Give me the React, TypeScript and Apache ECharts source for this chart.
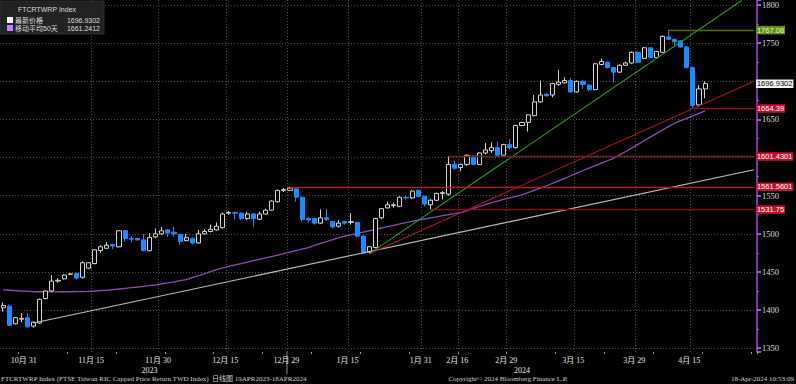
import React, { useEffect, useRef } from "react";
import * as echarts from "echarts";

const tradeDates = [
  "2023-10-26", "2023-10-27", "2023-10-30", "2023-10-31",
  "2023-11-01", "2023-11-02", "2023-11-03", "2023-11-06", "2023-11-07", "2023-11-08", "2023-11-09", "2023-11-10",
  "2023-11-13", "2023-11-14", "2023-11-15", "2023-11-16", "2023-11-17", "2023-11-20", "2023-11-21", "2023-11-22",
  "2023-11-23", "2023-11-24", "2023-11-27", "2023-11-28", "2023-11-29", "2023-11-30",
  "2023-12-01", "2023-12-04", "2023-12-05", "2023-12-06", "2023-12-07", "2023-12-08", "2023-12-11", "2023-12-12",
  "2023-12-13", "2023-12-14", "2023-12-15", "2023-12-18", "2023-12-19", "2023-12-20", "2023-12-21", "2023-12-22",
  "2023-12-25", "2023-12-26", "2023-12-27", "2023-12-28", "2023-12-29",
  "2024-01-02", "2024-01-03", "2024-01-04", "2024-01-05", "2024-01-08", "2024-01-09", "2024-01-10", "2024-01-11",
  "2024-01-12", "2024-01-15", "2024-01-16", "2024-01-17", "2024-01-18", "2024-01-19", "2024-01-22", "2024-01-23",
  "2024-01-24", "2024-01-25", "2024-01-26", "2024-01-29", "2024-01-30", "2024-01-31",
  "2024-02-01", "2024-02-02", "2024-02-05", "2024-02-06", "2024-02-15", "2024-02-16", "2024-02-19", "2024-02-20",
  "2024-02-21", "2024-02-22", "2024-02-23", "2024-02-26", "2024-02-27", "2024-02-29",
  "2024-03-01", "2024-03-04", "2024-03-05", "2024-03-06", "2024-03-07", "2024-03-08", "2024-03-11", "2024-03-12",
  "2024-03-13", "2024-03-14", "2024-03-15", "2024-03-18", "2024-03-19", "2024-03-20", "2024-03-21", "2024-03-22",
  "2024-03-25", "2024-03-26", "2024-03-27", "2024-03-28", "2024-03-29",
  "2024-04-01", "2024-04-02", "2024-04-03", "2024-04-08", "2024-04-09", "2024-04-10", "2024-04-11", "2024-04-12",
  "2024-04-15", "2024-04-16", "2024-04-17", "2024-04-18",
];
const futureDates = ["2024-04-19", "2024-04-22", "2024-04-23", "2024-04-24", "2024-04-25", "2024-04-26", "2024-04-29", "2024-04-30"];

const opens = [
  1403, 1405, 1382, 1388, 1390, 1379, 1383, 1415, 1425, 1438,
  1441, 1447, 1448, 1443, 1455, 1461, 1478, 1481, 1486, 1483,
  1504, 1494, 1494, 1492, 1478, 1496, 1500, 1505, 1502, 1499,
  1491, 1494, 1488, 1500, 1503, 1505, 1508, 1527, 1528, 1527,
  1520, 1526, 1519, 1526, 1531, 1542, 1557, 1557, 1559, 1548,
  1520, 1520, 1514, 1521, 1516, 1510, 1516, 1515, 1515, 1497,
  1476, 1482, 1521, 1534, 1537, 1536, 1548, 1547, 1557, 1549,
  1538, 1544, 1553, 1552, 1591, 1587, 1591, 1602, 1591, 1606,
  1609, 1613, 1603, 1617, 1613, 1642, 1646, 1655, 1673, 1683,
  1682, 1696, 1698, 1701, 1686, 1700, 1695, 1689, 1722, 1725,
  1718, 1712, 1721, 1724, 1738, 1730, 1744, 1731, 1738, 1758,
  1755, 1753, 1745, 1718, 1669, 1690,
];
const closes = [
  1406, 1380, 1390, 1389, 1378, 1384, 1414, 1425, 1438, 1439,
  1446, 1447.5, 1442, 1462, 1462, 1479, 1483, 1485, 1484, 1504,
  1494, 1493, 1492, 1478, 1495, 1500, 1504, 1501, 1500, 1490,
  1495, 1488, 1500, 1503, 1506, 1510, 1526, 1528, 1527, 1520,
  1526, 1520, 1526, 1531, 1543, 1557, 1558, 1560, 1548, 1519,
  1518, 1514, 1521, 1519, 1509, 1514, 1514, 1516, 1497, 1475,
  1483, 1520, 1533, 1538, 1538, 1548, 1547, 1556, 1549, 1539,
  1544, 1553, 1554, 1591, 1586, 1591, 1603, 1591, 1606, 1610,
  1613, 1603, 1617, 1613, 1642, 1646, 1656, 1673, 1682, 1681,
  1697, 1699, 1701, 1686, 1700, 1696, 1689, 1723, 1726, 1718,
  1712, 1721, 1724, 1738, 1725, 1744, 1731, 1739, 1759, 1755,
  1752, 1745, 1718, 1668, 1690, 1696.9302,
];
const lows = [
  1398, 1379, 1381, 1384, 1377, 1377, 1382, 1414, 1424, 1436,
  1440, 1446, 1440, 1441, 1454, 1460, 1475, 1480, 1480, 1482,
  1490, 1489, 1491, 1477, 1477, 1494, 1499, 1496, 1496, 1485,
  1490, 1486, 1487, 1499, 1502, 1504, 1507, 1525, 1519, 1518,
  1518, 1509, 1518, 1525, 1530, 1541, 1555, 1556, 1542, 1516,
  1515, 1512, 1513, 1517, 1507, 1508, 1512, 1512, 1495, 1473,
  1474, 1481, 1519, 1533, 1534, 1535, 1545, 1546, 1548, 1536,
  1531.75, 1543, 1545, 1550, 1584, 1582, 1589, 1590, 1590, 1604,
  1606, 1602, 1602, 1611, 1612, 1641, 1634, 1654, 1672, 1680,
  1679, 1694, 1697, 1685, 1685, 1690, 1687, 1688, 1721, 1717,
  1699, 1711, 1720, 1723, 1724, 1729, 1730, 1730, 1737, 1754,
  1745, 1744, 1717, 1664.39, 1667, 1678,
];
const highs = [
  1410, 1407, 1391, 1396, 1396, 1385, 1415, 1426, 1446, 1442,
  1447, 1448, 1449, 1464, 1463, 1480, 1485, 1489, 1487, 1505,
  1505, 1497, 1494.5, 1500, 1501, 1507, 1509, 1506, 1509, 1500,
  1500, 1495, 1505, 1506, 1512, 1515, 1528, 1530, 1529, 1528,
  1529, 1527, 1529, 1533, 1544, 1558, 1560, 1561.5601, 1560, 1549,
  1522, 1521, 1532, 1532, 1517, 1518, 1517, 1527, 1516, 1498,
  1484, 1521, 1534, 1542, 1541, 1549, 1550, 1557, 1558, 1550,
  1546, 1554, 1556, 1601.4301, 1596, 1592, 1604, 1603, 1607, 1619,
  1620, 1621, 1618, 1624, 1643, 1647, 1657, 1682, 1701, 1684,
  1698, 1715, 1705, 1705, 1701, 1702, 1696, 1724, 1730, 1726,
  1719, 1722, 1726, 1739, 1739, 1745, 1745, 1740, 1760, 1767.08,
  1756, 1754, 1746, 1719, 1695, 1700,
];
const ma50 = [
  1426.5, 1426, 1425.5, 1425, 1424.6, 1424.2, 1424, 1423.8, 1423.8, 1423.9,
  1424, 1424, 1424.1, 1424.3, 1424.6, 1425, 1425.5, 1426, 1426.8, 1427.6,
  1428.5, 1429.3, 1430.2, 1431.1, 1432, 1433, 1434.3, 1435.6, 1437, 1438.5,
  1440, 1442.5, 1445, 1447.6, 1450.3, 1453, 1455.2, 1457.2, 1459.1, 1461,
  1463, 1464.8, 1466.6, 1468.4, 1470.2, 1472, 1474, 1476, 1478, 1480,
  1482, 1484.7, 1487.3, 1489.9, 1492.5, 1495, 1496.9, 1498.7, 1500.5, 1502.3,
  1504, 1505.8, 1507.6, 1509.4, 1511.2, 1513, 1514.6, 1516.2, 1517.8, 1519.4,
  1521, 1522.3, 1523.7, 1525.1, 1526.5, 1528, 1530.5, 1533.1, 1535.8, 1538.4,
  1541, 1543, 1545, 1547, 1549, 1551, 1554, 1557, 1560, 1563,
  1566, 1569.3, 1572.7, 1576.1, 1579.5, 1583, 1586.2, 1589.4, 1592.6, 1595.8,
  1599, 1603.5, 1608, 1612.6, 1617.2, 1622, 1626.7, 1631.3, 1636, 1640.5,
  1645, 1648.3, 1651.5, 1654.7, 1658, 1661.2412,
];

const xLabelDates = ["2023-10-31", "2023-11-15", "2023-11-30", "2023-12-15", "2023-12-29", "2024-01-15",
  "2024-01-31", "2024-02-16", "2024-02-29", "2024-03-15", "2024-03-29", "2024-04-15"];
const yearLabelDates = ["2023-11-29", "2024-03-05"];
const yearLabelTexts = ["2023", "2024"];
const yearBreakDate = "2024-01-02";
const hiddenYLabels = [1600, 1700];

const levelValues = [1767.08, 1664.39, 1601.4301, 1561.5601, 1531.75];
const levelStartDates = ["2024-04-10", "2024-04-16", "2024-02-15", "2024-01-02", "2024-02-02"];
const levelLineColors = ["#56680a", "#8e1022", "#7c1a1e", "#b8141c", "#761619"];
const levelTagColors = ["#5c9412", "#c4102e", "#c4102e", "#c4102e", "#c4102e"];

const trendStartDates = ["2023-11-02", "2024-01-19", "2024-01-19"];
const trendStartValues = [1383, 1474, 1474];
const trendEndDates = ["2024-04-30", "2024-04-30", "2024-04-26"];
const trendEndValues = [1584, 1700, 1806];
const trendColors = ["#bdbdbd", "#b3141c", "#1f9a1f"];

const legendTitle = "FTCRTWRP Index";
const legendNames = ["最新价格", "移动平均50天"];
const footerLeft = "FTCRTWRP Index (FTSE Taiwan RIC Capped Price Return TWD Index)  日线图 19APR2023-18APR2024";
const footerMid = "Copyright© 2024 Bloomberg Finance L.P.";
const footerRight = "18-Apr-2024 10:53:09";

const SANS = '"Liberation Sans","Noto Sans CJK SC",sans-serif';
const SERIF = '"Liberation Serif","Noto Sans CJK SC",serif';
const PURPLE = "#a24de0";

export default function App() {
  const ref = useRef<HTMLDivElement>(null);
  useEffect(() => {
    document.body.style.margin = "0";
    document.body.style.background = "#000";
    const el = ref.current!;
    const chart = echarts.init(el, null, { renderer: "svg" });
    const categories = tradeDates.concat(futureDates);
    const lastCat = categories[categories.length - 1];
    const candleData = tradeDates.map((_, i) => [opens[i], closes[i], lows[i], highs[i]]);
    const labelIdx = new Set(xLabelDates.map((d) => categories.indexOf(d)));
    const yearIdx = new Set(yearLabelDates.map((d) => categories.indexOf(d)));
    const lastClose = closes[closes.length - 1];
    const lastMA = ma50[ma50.length - 1];
    const fmtDate = (d: string) => {
      const p = d.split("-");
      return `${+p[1]}月 ${p[2]}`;
    };

    const tagLabel = (text: string, bg: string, fg: string) => ({
      show: true,
      position: "end",
      formatter: text,
      backgroundColor: bg,
      color: fg,
      padding: [1, 1, 0, 1],
      fontSize: 7.5,
      fontFamily: SANS,
      distance: 2,
    });

    const markData: any[] = [];
    trendStartDates.forEach((d, k) => {
      markData.push([
        { coord: [d, trendStartValues[k]], lineStyle: { color: trendColors[k], width: 1.1, type: "solid" }, label: { show: false } },
        { coord: [trendEndDates[k], trendEndValues[k]] },
      ]);
    });
    levelValues.forEach((v, k) => {
      markData.push([
        {
          coord: [levelStartDates[k], v],
          lineStyle: { color: levelLineColors[k], width: 1.3, type: "solid" },
          label: tagLabel(String(v), levelTagColors[k], k === 0 ? "#eaf7d6" : "#ffffff"),
        },
        { coord: [lastCat, v] },
      ]);
    });
    markData.push([
      {
        coord: [tradeDates[tradeDates.length - 2], lastClose],
        lineStyle: { color: "rgba(0,0,0,0)", width: 1 },
        label: tagLabel(String(lastClose), "#f2f2f2", "#000000"),
      },
      { coord: [lastCat, lastClose] },
    ]);

    chart.setOption({
      animation: false,
      backgroundColor: "#000000",
      grid: { left: -2, right: 39, top: 0, bottom: 32, containLabel: false },
      xAxis: [
        {
          type: "category",
          data: categories,
          boundaryGap: true,
          axisLine: { show: false },
          axisTick: { show: true, interval: (i: number) => i % 8 === 3, length: 2, lineStyle: { color: "#9a9a9a" } },
          axisLabel: {
            interval: (i: number) => labelIdx.has(i),
            formatter: (v: string) => fmtDate(v),
            color: "#e4e4e4",
            fontSize: 8,
            fontFamily: SERIF,
            margin: 4,
            padding: [0, 0, 0, 5],
          },
          splitLine: {
            show: true,
            interval: (i: number) => labelIdx.has(i - 1),
            showMinLine: false,
            showMaxLine: false,
            lineStyle: { color: "#4c4c4c", type: [1, 2], width: 1 },
          },
        },
        {
          type: "category",
          data: categories,
          position: "bottom",
          offset: 10,
          axisLine: { show: false },
          axisTick: { show: false },
          splitLine: { show: false },
          axisLabel: {
            interval: (i: number) => yearIdx.has(i),
            formatter: (v: string) => {
              const k = yearLabelDates.indexOf(v);
              return k >= 0 ? yearLabelTexts[k] : "";
            },
            color: "#e4e4e4",
            fontSize: 8,
            fontFamily: SERIF,
            margin: 4,
          },
        },
      ],
      yAxis: {
        type: "value",
        position: "right",
        min: 1345,
        max: 1806.6,
        splitNumber: 9,
        axisLine: { show: true, lineStyle: { color: PURPLE, width: 1.5 } },
        axisTick: { show: true, length: 4, lineStyle: { color: PURPLE, width: 2 } },
        minorTick: { show: true, splitNumber: 2, length: 2, lineStyle: { color: PURPLE, width: 1 } },
        axisLabel: {
          color: "#dddddd",
          fontSize: 8.5,
          fontFamily: SERIF,
          margin: 5,
          showMinLabel: false,
          showMaxLabel: false,
          formatter: (v: number) => (hiddenYLabels.indexOf(v) >= 0 ? "" : String(v)),
        },
        splitLine: {
          show: true,
          showMinLine: false,
          showMaxLine: false,
          lineStyle: { color: "#4c4c4c", type: [1, 2], width: 1 },
        },
      },
      series: [
        {
          name: legendNames[1],
          type: "line",
          data: ma50,
          xAxisIndex: 0,
          symbol: "none",
          showSymbol: false,
          lineStyle: { color: "#8a4cb8", width: 1.3 },
          z: 2,
          silent: true,
        },
        {
          name: legendNames[0],
          type: "candlestick",
          data: candleData,
          xAxisIndex: 0,
          barWidth: 4.6,
          z: 3,
          silent: true,
          itemStyle: {
            color: "#000000",
            color0: "#1a8cff",
            borderColor: "#d2d2d2",
            borderColor0: "#1a8cff",
            borderWidth: 1,
          },
          markLine: {
            silent: true,
            symbol: ["none", "none"],
            animation: false,
            data: markData,
          },
        },
      ],
    });

    const c1 = chart.convertToPixel({ xAxisIndex: 0 }, yearBreakDate) as number;
    const c0 = chart.convertToPixel({ xAxisIndex: 0 }, categories[categories.indexOf(yearBreakDate) - 1]) as number;
    const sepX = (c0 + c1) / 2;
    const LF = `7px ${SANS}`;

    chart.setOption({
      graphic: [
        { type: "line", shape: { x1: sepX, y1: 352, x2: sepX, y2: 374 }, style: { stroke: "#8a8a8a", lineWidth: 1 } },
        { type: "rect", shape: { x: 0, y: 1, width: 104, height: 33 }, style: { fill: "#222222", stroke: "#2e2e2e" }, z: 10 },
        { type: "text", x: 47, y: 9, z: 11, style: { text: legendTitle, fill: "#d8d8d8", font: LF, align: "center", verticalAlign: "middle" } },
        { type: "rect", shape: { x: 7, y: 17, width: 6, height: 6 }, style: { fill: "#f4f4f4" }, z: 11 },
        { type: "text", x: 15, y: 20, z: 11, style: { text: legendNames[0], fill: "#dddddd", font: LF, verticalAlign: "middle" } },
        { type: "text", x: 100, y: 20, z: 11, style: { text: String(lastClose), fill: "#dddddd", font: LF, align: "right", verticalAlign: "middle" } },
        { type: "rect", shape: { x: 7, y: 25, width: 6, height: 6 }, style: { fill: "#c77dff" }, z: 11 },
        { type: "text", x: 15, y: 28, z: 11, style: { text: legendNames[1], fill: "#dddddd", font: LF, verticalAlign: "middle" } },
        { type: "text", x: 100, y: 28, z: 11, style: { text: String(lastMA), fill: "#dddddd", font: LF, align: "right", verticalAlign: "middle" } },
        { type: "text", x: 1, y: 379, style: { text: footerLeft, fill: "#d0d0d0", font: `7px ${SERIF}`, verticalAlign: "middle" } },
        { type: "text", x: 508, y: 379, style: { text: footerMid, fill: "#d0d0d0", font: `7px ${SERIF}`, align: "center", verticalAlign: "middle" } },
        { type: "text", x: 794, y: 379, style: { text: footerRight, fill: "#d0d0d0", font: `7px ${SERIF}`, align: "right", verticalAlign: "middle" } },
      ],
    });

    return () => chart.dispose();
  }, []);
  return <div ref={ref} style={{ width: 796, height: 384 }} />;
}
